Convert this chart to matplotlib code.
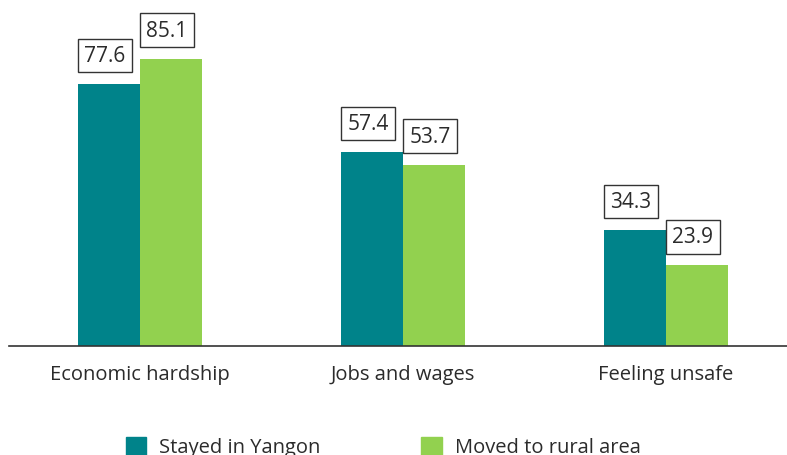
import matplotlib
matplotlib.use("Agg")
import matplotlib.pyplot as plt
from matplotlib.patches import Patch
import numpy as np

categories = ["Economic hardship", "Jobs and wages", "Feeling unsafe"]
stayed = [77.6, 57.4, 34.3]
moved = [85.1, 53.7, 23.9]
series_names = ["Stayed in Yangon", "Moved to rural area"]

TEAL = "#00838a"
GREEN = "#92d14f"
TXT = "#2b2b2b"
plt.rcParams["font.family"] = ["Open Sans", "DejaVu Sans"]

W, H = 787, 456
fig = plt.figure(figsize=(W / 100, H / 100), dpi=100)
ax = fig.add_axes([9 / W, (H - 347) / H, 778 / W, 347 / H])

x = np.arange(len(categories))
bw = 0.236
b1 = ax.bar(x - bw / 2, stayed, bw, color=TEAL)
b2 = ax.bar(x + bw / 2, moved, bw, color=GREEN)

for bars, vals in ((b1, stayed), (b2, moved)):
    for b, v in zip(bars, vals):
        ax.annotate(f"{v:.1f}", xy=(b.get_x(), v), xytext=(4.5, 13),
                    textcoords="offset points", ha="left", va="bottom",
                    fontsize=15, color=TXT,
                    bbox=dict(boxstyle="square,pad=0.3", fc="white",
                              ec="#333333", lw=1))

ax.set_xlim(-0.498, 2.46)
ax.set_ylim(0, 102.8)
ax.set_xticks(x)
ax.set_xticklabels(categories, fontsize=14.5, color=TXT)
ax.tick_params(axis="x", length=0, pad=13)
ax.set_yticks([])
for s in ("top", "right", "left"):
    ax.spines[s].set_visible(False)
ax.spines["bottom"].set_color("#333333")
ax.spines["bottom"].set_linewidth(1.2)

handles = [Patch(color=TEAL), Patch(color=GREEN)]
fig.legend(handles, series_names, loc="center left",
           bbox_to_anchor=(108 / W, 1 - 448 / H), ncol=2, frameon=False,
           fontsize=14.5, labelcolor=TXT, handlelength=1.0, handleheight=1.0,
           columnspacing=5.0, handletextpad=0.65)

fig.savefig("out.png", dpi=100)
